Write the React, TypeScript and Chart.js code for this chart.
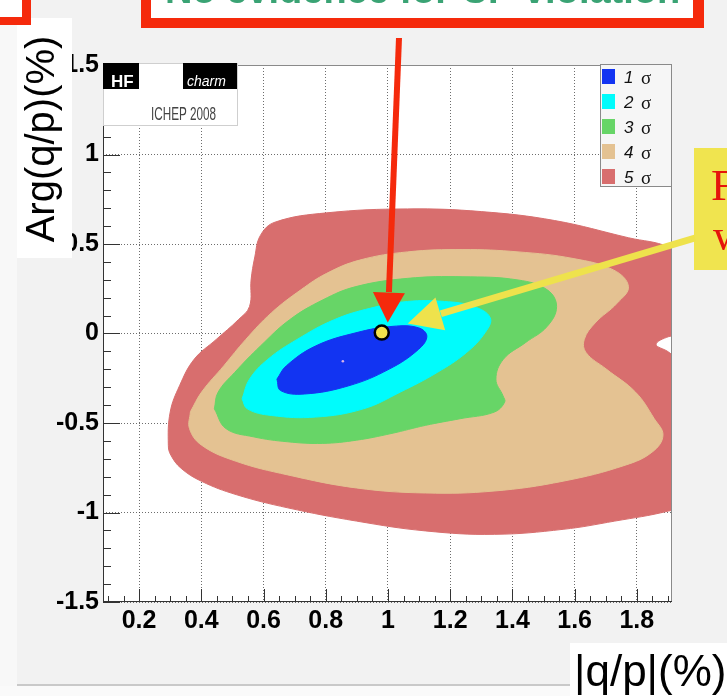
import { useEffect, useRef } from "react";
import { Chart, registerables } from "chart.js";

Chart.register(...registerables);

const WIDTH = 727;
const HEIGHT = 696;

// Confidence-level regions in the (|q/p|, Arg(q/p)) plane, each one a closed outline [x, y]
const sigma1: [number, number][] = [
  [0.643, -0.255], [0.673, -0.181], [0.767, -0.07], [0.897, 0.004], [1.016, 0.04], [1.098, 0.032],
  [1.125, -0.015], [1.098, -0.089], [1.004, -0.199], [0.874, -0.292], [0.732, -0.338], [0.655, -0.319],
  [0.643, -0.255],
];
const sigma2: [number, number][] = [
  [0.531, -0.365], [0.555, -0.255], [0.614, -0.144], [0.708, -0.033], [0.827, 0.077], [0.945, 0.142],
  [1.063, 0.179], [1.181, 0.179], [1.276, 0.151], [1.329, 0.087], [1.312, 0.004], [1.252, -0.107],
  [1.158, -0.218], [1.039, -0.328], [0.921, -0.421], [0.767, -0.467], [0.625, -0.458], [0.548, -0.421],
  [0.531, -0.365],
];
const sigma3: [number, number][] = [
  [0.442, -0.421], [0.454, -0.328], [0.507, -0.218], [0.59, -0.07], [0.684, 0.077], [0.791, 0.188],
  [0.897, 0.262], [1.063, 0.308], [1.241, 0.317], [1.418, 0.299], [1.512, 0.244], [1.542, 0.151],
  [1.512, 0.04], [1.442, -0.051], [1.371, -0.144], [1.347, -0.255], [1.37, -0.349], [1.375, -0.384],
  [1.342, -0.439], [1.232, -0.476], [1.121, -0.513], [1.01, -0.559], [0.899, -0.596], [0.789, -0.614],
  [0.678, -0.605], [0.567, -0.577], [0.479, -0.531], [0.442, -0.421],
];
const sigma4: [number, number][] = [
  [0.365, -0.437], [0.401, -0.327], [0.472, -0.181], [0.543, -0.033], [0.625, 0.115], [0.72, 0.244],
  [0.803, 0.336], [0.909, 0.41], [1.063, 0.456], [1.241, 0.469], [1.418, 0.456], [1.595, 0.419],
  [1.726, 0.354], [1.773, 0.262], [1.737, 0.17], [1.666, 0.059], [1.631, -0.033], [1.637, -0.107],
  [1.702, -0.199], [1.796, -0.328], [1.856, -0.476], [1.884, -0.568], [1.851, -0.66], [1.762, -0.736],
  [1.563, -0.825], [1.341, -0.88], [1.121, -0.891], [0.899, -0.863], [0.678, -0.79], [0.512, -0.714],
  [0.401, -0.624], [0.362, -0.531], [0.365, -0.437],
];
const sigma5: [number, number][] = [
  [1.96, 0.4], [1.903, 0.483], [1.773, 0.535], [1.536, 0.631], [1.3, 0.681], [1.063, 0.696],
  [0.803, 0.674], [0.637, 0.622], [0.59, 0.548], [0.572, 0.428], [0.56, 0.299], [0.555, 0.151],
  [0.519, 0.077], [0.448, -0.033], [0.377, -0.144], [0.33, -0.292], [0.3, -0.439], [0.294, -0.624],
  [0.302, -0.679], [0.335, -0.753], [0.401, -0.826], [0.512, -0.9], [0.678, -0.974], [0.899, -1.048],
  [1.121, -1.103], [1.342, -1.122], [1.563, -1.094], [1.729, -1.048], [1.901, -0.992], [1.96, -0.95],
  [1.96, -0.2], [1.903, -0.105], [1.862, -0.061], [1.903, -0.017], [1.96, 0.0], [1.96, 0.4],
];

const contours = [sigma1, sigma2, sigma3, sigma4, sigma5];
const sigmaLabels = ["1 σ", "2 σ", "3 σ", "4 σ", "5 σ"];
const sigmaColors = ["#1234f2", "#00fcfc", "#67d567", "#e4c292", "#d86e6e"];

// Point with no CP violation, and the best-fit marker
const noCpvPoint = [{ x: 0.98, y: 0.005 }];
const bestFitPoint = [{ x: 0.855, y: -0.155 }];

const xRange = [0.084, 1.913];
const yRange = [-1.5, 1.5];
const xTicks = [0.2, 0.4, 0.6, 0.8, 1, 1.2, 1.4, 1.6, 1.8];
const xTickLabels = ["0.2", "0.4", "0.6", "0.8", "1", "1.2", "1.4", "1.6", "1.8"];
const yTicks = [-1.5, -1, -0.5, 0, 0.5, 1, 1.5];
const yTickLabels = ["-1.5", "-1", "-0.5", "0", "0.5", "1", "1.5"];
const xMinorStep = 0.05;
const yMinorStep = 0.1;

const xTitle = "|q/p|(%)";
const yTitle = "Arg(q/p)(%)";
const headline = "No evidence for CP violation";

const SANS = "'Liberation Sans', Arial, Helvetica, sans-serif";
const SERIF = "'Liberation Serif', 'Times New Roman', serif";

function drawArrow(
  ctx: CanvasRenderingContext2D,
  sx: number, sy: number, tx: number, ty: number,
  width: number, headLen: number, headHalf: number, color: string,
) {
  const dx = sx - tx;
  const dy = sy - ty;
  const len = Math.hypot(dx, dy);
  const ux = dx / len;
  const uy = dy / len;
  const bx = tx + ux * headLen;
  const by = ty + uy * headLen;
  ctx.strokeStyle = color;
  ctx.lineWidth = width;
  ctx.lineCap = "butt";
  ctx.beginPath();
  ctx.moveTo(sx, sy);
  ctx.lineTo(bx + ux * 0.5, by + uy * 0.5);
  ctx.stroke();
  ctx.fillStyle = color;
  ctx.beginPath();
  ctx.moveTo(tx, ty);
  ctx.lineTo(bx - uy * headHalf, by + ux * headHalf);
  ctx.lineTo(bx + uy * headHalf, by - ux * headHalf);
  ctx.closePath();
  ctx.fill();
}

const slideDecor = {
  id: "slideDecor",
  beforeDraw(chart: any) {
    const { ctx, chartArea: a } = chart;
    ctx.save();
    ctx.fillStyle = "#f2f2f2";
    ctx.fillRect(0, 0, chart.width, chart.height);
    ctx.fillStyle = "#f8f8f8";
    ctx.fillRect(0, 25, 17, chart.height - 25);
    ctx.fillStyle = "#ffffff";
    ctx.fillRect(a.left, a.top, a.right - a.left, a.bottom - a.top);
    ctx.restore();
  },
  afterDraw(chart: any) {
    const { ctx, chartArea: a } = chart;
    const xs = chart.scales.x;
    const ys = chart.scales.y;
    ctx.save();

    // frame
    ctx.strokeStyle = "#8a8a8a";
    ctx.lineWidth = 1;
    ctx.strokeRect(a.left + 0.5, a.top + 0.5, a.right - a.left - 1, a.bottom - a.top - 1);
    ctx.strokeStyle = "#333";
    ctx.beginPath();
    ctx.moveTo(a.left + 0.5, a.top);
    ctx.lineTo(a.left + 0.5, a.bottom);
    ctx.moveTo(a.left, a.bottom - 0.5);
    ctx.lineTo(a.right, a.bottom - 0.5);
    ctx.stroke();

    // inward tick marks
    ctx.strokeStyle = "#333";
    ctx.beginPath();
    for (let v = Math.ceil(xRange[0] / xMinorStep) * xMinorStep; v <= xRange[1]; v += xMinorStep) {
      const px = Math.round(xs.getPixelForValue(v)) + 0.5;
      const major = xTicks.some((t) => Math.abs(t - v) < 1e-6);
      ctx.moveTo(px, a.bottom);
      ctx.lineTo(px, a.bottom - (major ? 13 : 6));
    }
    for (let v = yRange[0]; v <= yRange[1] + 1e-9; v += yMinorStep) {
      const py = Math.round(ys.getPixelForValue(v)) + 0.5;
      const major = yTicks.some((t) => Math.abs(t - v) < 1e-6);
      ctx.moveTo(a.left, py);
      ctx.lineTo(a.left + (major ? 17 : 8), py);
    }
    ctx.stroke();

    // HFAG logo block
    ctx.fillStyle = "#ffffff";
    ctx.fillRect(a.left, a.top - 2, 134, 62);
    ctx.strokeStyle = "#cfcfcf";
    ctx.strokeRect(a.left + 0.5, a.top - 1.5, 134, 62);
    ctx.fillStyle = "#000";
    ctx.fillRect(a.left, a.top - 2, 36, 26);
    ctx.fillRect(a.left + 80, a.top - 2, 54, 26);
    ctx.fillStyle = "#fff";
    ctx.font = `bold 17px ${SANS}`;
    ctx.textBaseline = "alphabetic";
    ctx.textAlign = "left";
    ctx.fillText("HF", a.left + 8, a.top + 22);
    ctx.font = `italic 14px ${SANS}`;
    ctx.fillText("charm", a.left + 84, a.top + 21);
    ctx.save();
    ctx.fillStyle = "#444";
    ctx.font = `18px ${SANS}`;
    ctx.translate(a.left + 48, a.top + 55);
    ctx.scale(0.65, 1);
    ctx.fillText("ICHEP 2008", 0, 0);
    ctx.restore();

    // legend, built from the contour datasets
    const lx = a.right - 72;
    const ly = a.top - 1;
    ctx.fillStyle = "#f6f6f6";
    ctx.fillRect(lx, ly, 72, 123);
    ctx.strokeStyle = "#8a8a8a";
    ctx.strokeRect(lx + 0.5, ly + 0.5, 71, 122);
    chart.data.datasets.slice(0, contours.length).forEach((ds: any, i: number) => {
      const cy = ly + 13 + i * 25;
      ctx.fillStyle = ds.backgroundColor;
      ctx.fillRect(lx + 2, cy - 8, 13, 15);
      const [num, sym] = String(ds.label).split(" ");
      ctx.fillStyle = "#111";
      ctx.textBaseline = "middle";
      ctx.textAlign = "left";
      ctx.font = `italic 17px ${SANS}`;
      ctx.fillText(num, lx + 24, cy + 1);
      ctx.font = `19px ${SERIF}`;
      ctx.fillText(sym, lx + 41, cy + 2);
    });

    // axis titles
    ctx.fillStyle = "#fff";
    ctx.fillRect(17, 18, 55, 240);
    ctx.fillStyle = "#000";
    ctx.save();
    ctx.translate(54, 139);
    ctx.rotate(-Math.PI / 2);
    ctx.font = `40px ${SANS}`;
    ctx.textAlign = "center";
    ctx.textBaseline = "alphabetic";
    ctx.fillText(yTitle, 0, 0);
    ctx.restore();

    ctx.fillStyle = "#fafafa";
    ctx.fillRect(0, 686, 570, 10);
    ctx.fillStyle = "#c9c9c9";
    ctx.fillRect(17, 684, 553, 2);
    ctx.fillStyle = "#fff";
    ctx.fillRect(570, 643, 157, 53);
    ctx.fillStyle = "#000";
    ctx.font = `44px ${SANS}`;
    ctx.textAlign = "left";
    ctx.textBaseline = "alphabetic";
    ctx.fillText(xTitle, 574, 686);

    // slide call-out boxes
    ctx.fillStyle = "#f52a0c";
    ctx.fillRect(0, 0, 31, 25);
    ctx.fillStyle = "#fff";
    ctx.fillRect(0, 0, 22, 17);

    ctx.fillStyle = "#f52a0c";
    ctx.fillRect(141, 0, 563, 28);
    ctx.fillStyle = "#fff";
    ctx.fillRect(151, 0, 542, 18);
    ctx.save();
    ctx.beginPath();
    ctx.rect(151, 0, 542, 18);
    ctx.clip();
    ctx.fillStyle = "#3aa374";
    ctx.font = `bold 38px ${SANS}`;
    ctx.fillText(headline, 165, 3);
    ctx.restore();

    ctx.fillStyle = "#f0e44f";
    ctx.fillRect(694, 148, 33, 122);
    ctx.fillStyle = "#e5140c";
    ctx.font = `45px ${SERIF}`;
    ctx.fillText("F", 711, 200);
    ctx.fillText("w", 713, 250);

    // arrows pointing at the no-CP-violation point
    const dotX = xs.getPixelForValue(noCpvPoint[0].x);
    const dotY = ys.getPixelForValue(noCpvPoint[0].y);
    drawArrow(ctx, 399, 38, dotX + 6, dotY - 10, 6, 30, 16, "#f52a0c");
    drawArrow(ctx, 695, 238, dotX + 26, dotY - 9, 7, 34, 17, "#eee24c");

    ctx.restore();
  },
};

const tickFont = { family: SANS, size: 25, weight: "bold" as const };

export default function App() {
  const ref = useRef<HTMLCanvasElement>(null);

  useEffect(() => {
    const canvas = ref.current;
    if (!canvas) return;

    const datasets: any[] = contours.map((c, i) => ({
      type: "line",
      label: sigmaLabels[i],
      data: c.map(([x, y]) => ({ x, y })),
      fill: "shape",
      backgroundColor: sigmaColors[i],
      borderColor: sigmaColors[i],
      borderWidth: 1,
      pointRadius: 0,
      pointHoverRadius: 0,
      tension: 0.4,
      order: i,
    }));
    datasets.push({
      type: "line",
      label: "best fit",
      data: bestFitPoint,
      showLine: false,
      pointRadius: 1.3,
      pointBackgroundColor: "#d7b3e6",
      pointBorderWidth: 0,
      order: -1,
    });
    datasets.push({
      type: "line",
      label: "no CPV",
      data: noCpvPoint,
      showLine: false,
      pointRadius: 7,
      pointBackgroundColor: "#f3e24c",
      pointBorderColor: "#000",
      pointBorderWidth: 2.5,
      order: -2,
    });

    const chart = new Chart(canvas, {
      type: "line",
      data: { datasets },
      options: {
        responsive: false,
        maintainAspectRatio: false,
        animation: false,
        devicePixelRatio: 1,
        events: [],
        layout: { padding: { top: 65, right: 55, left: 0, bottom: 0 } },
        plugins: {
          legend: { display: false },
          tooltip: { enabled: false },
          title: { display: false },
        },
        scales: {
          x: {
            type: "linear",
            min: xRange[0],
            max: xRange[1],
            z: 1,
            afterFit: (s: any) => {
              s.height = 94;
            },
            afterBuildTicks: (s: any) => {
              s.ticks = xTicks.map((value) => ({ value }));
            },
            grid: { color: "rgba(60,60,60,0.75)", lineWidth: 1, drawTicks: false },
            border: { display: false, dash: [1, 2] },
            ticks: {
              padding: 4,
              color: "#000",
              font: tickFont,
              maxRotation: 0,
              autoSkip: false,
              callback: (_v: any, i: number) => xTickLabels[i],
            },
          },
          y: {
            type: "linear",
            min: yRange[0],
            max: yRange[1],
            z: 1,
            afterFit: (s: any) => {
              s.width = 103;
            },
            afterBuildTicks: (s: any) => {
              s.ticks = yTicks.map((value) => ({ value }));
            },
            grid: { color: "rgba(60,60,60,0.75)", lineWidth: 1, drawTicks: false },
            border: { display: false, dash: [1, 2] },
            ticks: {
              padding: 4,
              color: "#000",
              font: tickFont,
              autoSkip: false,
              callback: (_v: any, i: number) => yTickLabels[i],
            },
          },
        },
      },
      plugins: [slideDecor],
    } as any);

    return () => chart.destroy();
  }, []);

  return (
    <div style={{ position: "absolute", left: 0, top: 0, width: WIDTH, height: HEIGHT }}>
      <canvas ref={ref} width={WIDTH} height={HEIGHT} style={{ display: "block", width: WIDTH, height: HEIGHT }} />
    </div>
  );
}
